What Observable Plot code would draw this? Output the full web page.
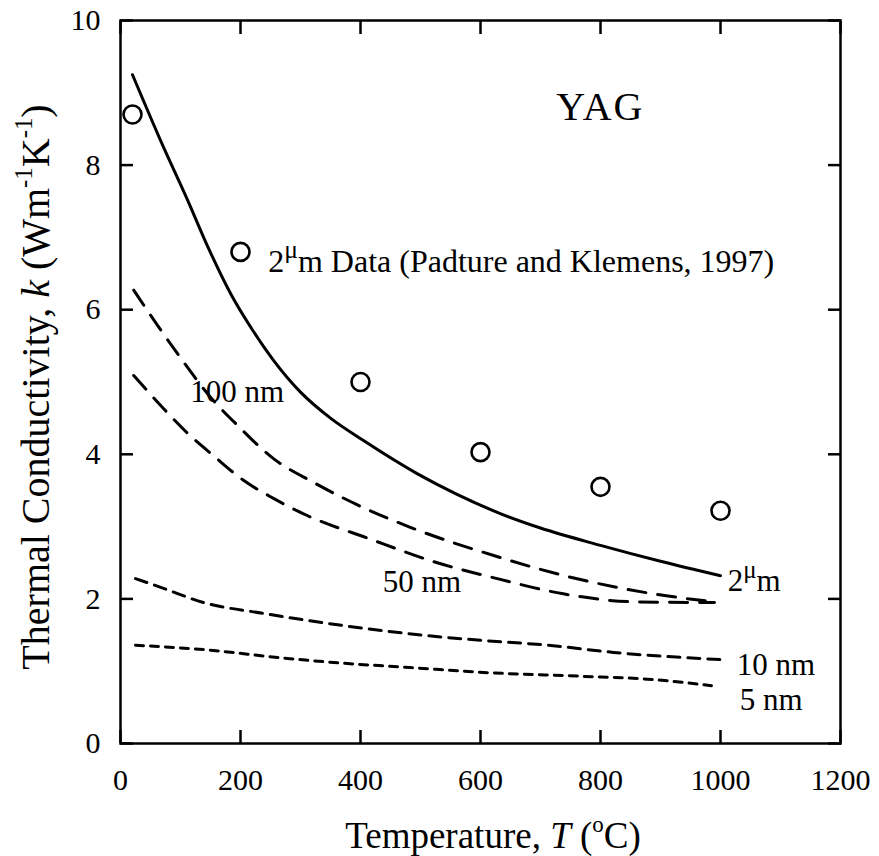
<!DOCTYPE html>
<html><head><meta charset="utf-8">
<script src="https://cdn.jsdelivr.net/npm/d3@7"></script>
<script src="https://cdn.jsdelivr.net/npm/@observablehq/plot@0.6"></script>
<style>body{margin:0;background:#fff} svg{display:block} svg text{font-family:"Liberation Serif","Times New Roman",serif}</style>
</head><body><div id="chart"></div>
<script>
// 2 µm grain size model curve
const temp2um = [20, 70, 110, 145, 185, 220, 255, 300, 350, 405, 495, 560, 633, 700, 800, 900, 1000];
const k2um = [9.25, 8.28, 7.55, 6.88, 6.2, 5.72, 5.30, 4.86, 4.50, 4.19, 3.73, 3.45, 3.18, 2.98, 2.74, 2.52, 2.32];
// 100 nm
const temp100 = [22, 62, 103, 150, 195, 255, 322, 395, 483, 622, 750, 888, 988];
const k100 = [6.27, 5.78, 5.30, 4.79, 4.40, 3.94, 3.61, 3.30, 2.99, 2.60, 2.30, 2.07, 1.96];
// 50 nm
const temp50 = [22, 72, 112, 155, 205, 255, 312, 412, 528, 628, 738, 855, 990];
const k50 = [5.09, 4.63, 4.29, 3.98, 3.64, 3.39, 3.15, 2.84, 2.50, 2.28, 2.07, 1.96, 1.95];
// 10 nm
const temp10 = [25, 67, 138, 238, 372, 538, 612, 712, 822, 1000];
const k10 = [2.28, 2.16, 1.95, 1.80, 1.63, 1.47, 1.42, 1.36, 1.26, 1.16];
// 5 nm
const temp5 = [25, 150, 262, 372, 483, 612, 767, 878, 985];
const k5 = [1.36, 1.29, 1.19, 1.11, 1.05, 0.98, 0.93, 0.89, 0.80];
// measured data (Padture and Klemens, 1997)
const dataTemp = [20, 200, 400, 600, 800, 1000];
const dataK = [8.7, 6.8, 5.0, 4.03, 3.55, 3.22];
// ticks
const xTicks = [0, 200, 400, 600, 800, 1000, 1200];
const yTicks = [0, 2, 4, 6, 8, 10];

const zip = (ts, ks) => ts.map((t, i) => ({t, k: ks[i]}));
const FONT = '"Liberation Serif", "Times New Roman", serif';

const tickOpts = {stroke: "black", strokeWidth: 2.5};
const lineOpts = {x: "t", y: "k", stroke: "black", strokeWidth: 3, curve: "monotone-x"};
const plot = Plot.plot({
  width: 879,
  height: 856,
  marginLeft: 120,
  marginRight: 39,
  marginTop: 20,
  marginBottom: 113,
  style: {fontFamily: FONT, fontSize: "30px", color: "black", background: "white"},
  x: {domain: [0, 1200]},
  y: {domain: [0, 10]},
  marks: [
    Plot.axisX({anchor: "bottom", ticks: xTicks, tickFormat: d => String(d), tickSize: -13, tickPadding: 38, label: null, ...tickOpts}),
    Plot.axisX({anchor: "top", ticks: xTicks, tickSize: -13, tickFormat: () => "", label: null, ...tickOpts}),
    Plot.axisY({anchor: "left", ticks: yTicks, tickFormat: d => String(d), tickSize: -13, tickPadding: 33, label: null, ...tickOpts}),
    Plot.axisY({anchor: "right", ticks: yTicks, tickSize: -13, tickFormat: () => "", label: null, ...tickOpts}),
    Plot.frame({stroke: "black", strokeWidth: 2.5}),
    Plot.line(zip(temp2um, k2um), {...lineOpts}),
    Plot.line(zip(temp100, k100), {...lineOpts, strokeDasharray: "18,12"}),
    Plot.line(zip(temp50, k50), {...lineOpts, strokeDasharray: "18,12"}),
    Plot.line(zip(temp10, k10), {...lineOpts, strokeDasharray: "12,8"}),
    Plot.line(zip(temp5, k5), {...lineOpts, strokeDasharray: "8,7"}),
    Plot.dot(zip(dataTemp, dataK), {x: "t", y: "k", r: 9, stroke: "black", strokeWidth: 2.6, fill: "none"})
  ]
});

document.getElementById("chart").appendChild(plot);

const svg = d3.select(plot);
const sx = plot.scale("x"), sy = plot.scale("y");

function label(x, y, parts, size, anchor = "start") {
  const t = svg.append("text")
    .attr("x", x).attr("y", y)
    .style("font-family", FONT)
    .attr("font-size", size)
    .attr("text-anchor", anchor)
    .attr("fill", "black");
  let raised = false;
  for (const [txt, kind] of parts) {
    const ts = t.append("tspan").text(txt);
    if (kind === "i") ts.attr("font-style", "italic");
    if (kind === "sup" || kind === "raise") {
      const fs = kind === "sup" ? 0.62 : 0.8;
      ts.attr("font-size", `${fs}em`).attr("dy", `${-0.42 / fs}em`);
      raised = true;
    } else if (raised) {
      ts.attr("dy", "0.42em");
      raised = false;
    }
  }
  return t;
}

// in-plot annotations (anchored in data coordinates)
label(sx.apply(727), sy.apply(8.62), [["YAG", "n"]], 40).attr("letter-spacing", "2px");
label(sx.apply(247), sy.apply(6.52), [["2", "n"], ["μ", "raise"], ["m Data (Padture and Klemens, 1997)", "n"]], 32);
label(sx.apply(117), sy.apply(4.72), [["100 nm", "n"]], 31);
label(sx.apply(438), sy.apply(2.09), [["50 nm", "n"]], 31);
label(sx.apply(1013), sy.apply(2.1), [["2", "n"], ["μ", "raise"], ["m", "n"]], 31);
label(sx.apply(1028), sy.apply(0.94), [["10 nm", "n"]], 31);
label(sx.apply(1033), sy.apply(0.46), [["5 nm", "n"]], 31);

// axis titles
label(493, 848, [["Temperature, ", "n"], ["T", "i"], [" (", "n"], ["o", "sup"], ["C)", "n"]], 37, "middle");
label(0, 0, [["Thermal Conductivity, ", "n"], ["k", "i"], [" (Wm", "n"], ["-1", "sup"], ["K", "n"], ["-1", "sup"], [")", "n"]], 40, "middle")
  .attr("x", null).attr("y", null)
  .attr("transform", "translate(49,387) rotate(-90)");
</script>
</body></html>
